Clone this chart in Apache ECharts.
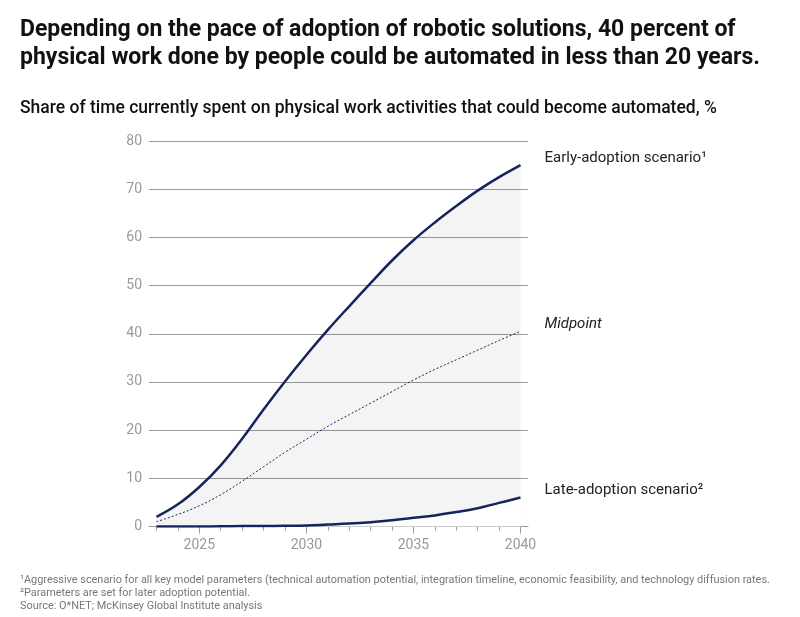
<!DOCTYPE html>
<html>
<head>
<meta charset="utf-8">
<script src="https://cdn.jsdelivr.net/npm/echarts@6/dist/echarts.min.js"></script>
<style>
  html, body { margin: 0; padding: 0; background: #fff; }
  #chart { width: 800px; height: 617px; }
</style>
</head>
<body>
<div id="chart"></div>
<script>
const years = [2023, 2024, 2025, 2026, 2027, 2028, 2029, 2030, 2031, 2032, 2033, 2034, 2035, 2036, 2037, 2038, 2039, 2040];
const earlyAdoption = [2.0, 4.6, 8.2, 12.7, 18.2, 24.3, 30.1, 35.6, 40.8, 45.7, 50.5, 55.2, 59.4, 63.1, 66.5, 69.7, 72.5, 75.0];
const midpoint = [1.0, 2.5, 4.3, 6.6, 9.4, 12.4, 15.4, 18.1, 20.8, 23.2, 25.6, 28.0, 30.4, 32.6, 34.6, 36.6, 38.6, 40.5];
const lateAdoption = [0.0, 0.0, 0.0, 0.05, 0.08, 0.1, 0.15, 0.2, 0.4, 0.6, 0.9, 1.3, 1.8, 2.3, 3.0, 3.8, 4.9, 6.0];
const xTickLabels = [2025, 2030, 2035, 2040];
const yTicks = [0, 10, 20, 30, 40, 50, 60, 70, 80];

const titleText = 'Depending on the pace of adoption of robotic solutions, 40 percent of\nphysical work done by people could be automated in less than 20 years.';
const subtitleText = 'Share of time currently spent on physical work activities that could become automated, %';
const footnotes = [
  '\u00b9Aggressive scenario for all key model parameters (technical automation potential, integration timeline, economic feasibility, and technology diffusion rates.',
  '\u00b2Parameters are set for later adoption potential.',
  'Source: O*NET; McKinsey Global Institute analysis'
];
const seriesNames = ['Early-adoption scenario\u00b9', 'Midpoint', 'Late-adoption scenario\u00b2'];

const navy = '#16245e';
const pair = (arr) => years.map((y, i) => [y, arr[i]]);

const chart = echarts.init(document.getElementById('chart'), null, { renderer: 'canvas' });
const xBase = {
  type: 'value', min: 2022.65, max: 2040.35,
  splitLine: { show: false }
};
const labelStyle = { color: '#222', fontSize: 15, offset: [16, -7], fontFamily: 'Roboto' };
chart.setOption({
  animation: false,
  textStyle: { fontFamily: 'Roboto' },
  title: [
    { text: titleText, left: 15, top: 11,
      textStyle: { fontSize: 23, fontWeight: 'bold', color: '#111', lineHeight: 28, fontFamily: 'Roboto' } },
    { text: subtitleText, left: 15, top: 95,
      textStyle: { fontSize: 17.5, fontWeight: 500, color: '#111', fontFamily: 'Roboto' } },
    { text: footnotes.join('\n'), left: 15, top: 569,
      textStyle: { fontSize: 10.9, fontWeight: 'normal', color: '#777', lineHeight: 13, fontFamily: 'Roboto' } }
  ],
  grid: { left: 149, right: 272, top: 141, bottom: 90.5, containLabel: false },
  xAxis: [
    Object.assign({}, xBase, {
      z: 1,
      axisLine: { show: true, lineStyle: { color: '#999', width: 1 } },
      axisTick: { show: true, customValues: years, length: 4, lineStyle: { color: '#999' } },
      axisLabel: { customValues: xTickLabels, color: '#999', fontSize: 14, margin: 12, formatter: (v) => String(v) }
    }),
    Object.assign({}, xBase, {
      position: 'bottom',
      axisLine: { show: false },
      axisTick: { show: true, customValues: xTickLabels, length: 7, lineStyle: { color: '#999' } },
      axisLabel: { show: false }
    })
  ],
  yAxis: {
    type: 'value', min: 0, max: 80, interval: 10,
    axisLine: { show: false },
    axisTick: { show: false },
    axisLabel: { color: '#999', fontSize: 14, margin: 7, customValues: yTicks },
    splitLine: { lineStyle: { color: '#999', width: 1 } }
  },
  series: [
    {
      name: seriesNames[0], type: 'line', data: pair(earlyAdoption), smooth: 0.4,
      symbol: 'none', lineStyle: { color: navy, width: 2.5 }, z: 3,
      areaStyle: { color: 'rgba(0,0,0,0.06)' },
      endLabel: Object.assign({ show: true, formatter: seriesNames[0] }, labelStyle)
    },
    {
      name: seriesNames[2], type: 'line', data: pair(lateAdoption), smooth: 0.4,
      symbol: 'none', lineStyle: { color: navy, width: 2.5 }, z: 4,
      areaStyle: { color: '#ffffff', opacity: 1 },
      endLabel: Object.assign({ show: true, formatter: seriesNames[2] }, labelStyle)
    },
    {
      name: seriesNames[1], type: 'line', data: pair(midpoint), smooth: 0.4,
      symbol: 'none', lineStyle: { color: navy, width: 1, type: [2, 2] }, z: 5,
      endLabel: Object.assign({ show: true, formatter: seriesNames[1], fontStyle: 'italic' }, labelStyle)
    }
  ]
});
</script>
</body>
</html>
